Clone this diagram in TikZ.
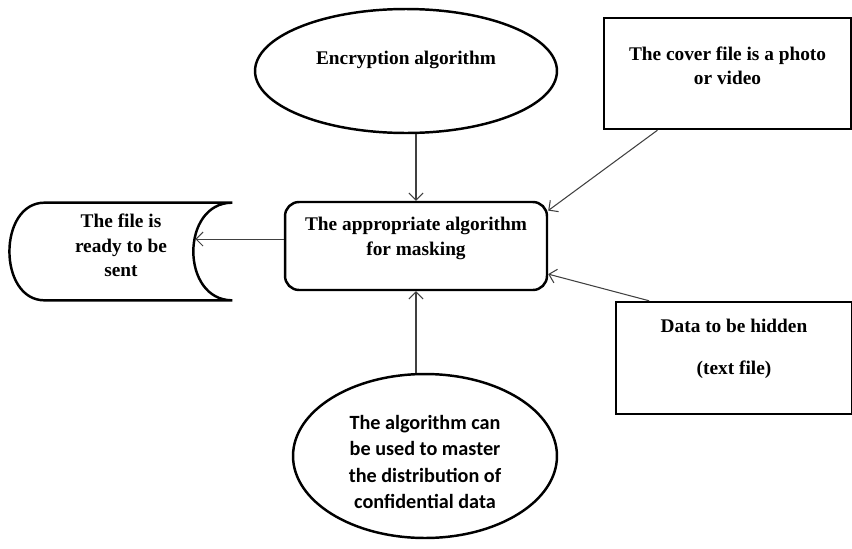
\documentclass[tikz,border=0pt]{standalone}
\usepackage{fontspec}
\setmainfont{Liberation Serif}
\newfontfamily\sansbody{Carlito}
\usetikzlibrary{shapes.geometric,arrows.meta,calc}
\tikzset{
  shapeline/.style={line width=1.4pt},
  oval/.style={ellipse, draw, shapeline, inner sep=0pt, align=center,
    font=\fontsize{11}{14}\selectfont\bfseries},
  flowbox/.style={rectangle, draw, shapeline, inner sep=0pt, align=center,
    font=\fontsize{11}{14}\selectfont\bfseries},
  store/.style={rectangle, inner sep=0pt, align=center,
    font=\fontsize{11}{14}\selectfont\bfseries},
  arr/.style={-{Straight Barb[length=4pt,width=8pt]}, line width=0.6pt, draw=black!75},
}
\newcommand{\flowoval}[4][]{\node at (#2) (#3) [oval, #1] {#4};}
\newcommand{\flowstep}[4][]{\node at (#2) (#3) [flowbox, #1] {#4};}
\newcommand{\flowstore}[4][]{\node at (#2) (#3) [store, #1] {#4};}
\newcommand{\flowlink}[2]{\draw [arr] (#1) -- (#2);}

\begin{document}
\begin{tikzpicture}[x=0.02cm, y=-0.02cm]
\useasboundingbox (0,0) rectangle (852,548);

\flowoval[minimum width=6.04cm, minimum height=2.48cm, text depth=14.5pt]{406,71}{enc}{Encryption algorithm}
\flowstep[rounded corners=8pt, minimum width=5.24cm, minimum height=1.76cm, text depth=11pt]{416,246}{mask}{The appropriate algorithm\\for masking}
\flowstep[minimum width=4.94cm, minimum height=2.22cm, text depth=9pt]{727.5,73.5}{cover}{The cover file is a photo\\or video}
\flowstep[minimum width=4.72cm, minimum height=2.24cm, text depth=13pt]{734,358}{data}{Data to be hidden\\[10pt](text file)}
\flowoval[minimum width=5.28cm, minimum height=3.28cm, text height=60pt,
  font=\fontsize{11.5}{15}\selectfont\sansbody\bfseries]{425,456}{algo}{The algorithm can\\be used to master\\the distribution of\\confidential data}
\flowstore[minimum width=4.44cm, minimum height=1.94cm, text depth=7pt]{121,251.5}{sent}{The file is\\ready to be\\sent}

% outline of the stored file
\draw [shapeline] (sent.north east) -- ($(sent.north west)+(35,0)$)
  .. controls ($(sent.north west)+(-12,0)$) and ($(sent.south west)+(-12,0)$) .. ($(sent.south west)+(35,0)$)
  -- (sent.south east)
  .. controls ($(sent.south east)+(-52,0)$) and ($(sent.north east)+(-52,0)$) .. (sent.north east);
\coordinate (sentin) at ($(sent.east)+(-37,-12)$);

\flowlink {enc.south -| mask.north}{mask.north}
\flowlink {cover.219}{mask.15}
\flowlink {data.146}{mask.-12}
\flowlink {algo.north -| mask.south}{mask.south}
\flowlink {mask.177}{sentin |- mask.177}
\end{tikzpicture}
\end{document}
